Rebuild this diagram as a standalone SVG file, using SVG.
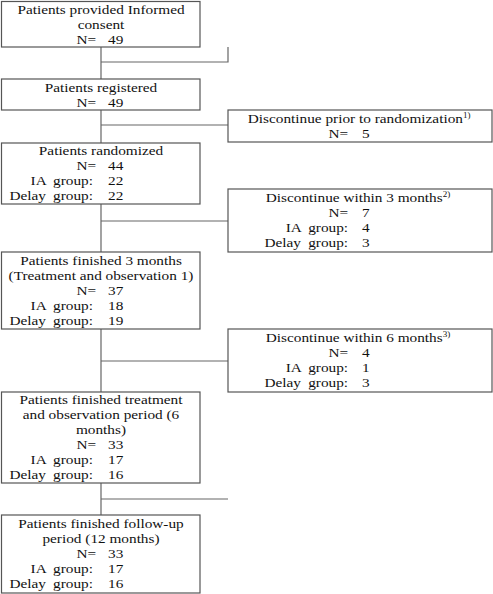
<svg xmlns="http://www.w3.org/2000/svg" width="493" height="594" viewBox="0 0 493 594">
<style>
.box{fill:#fff;stroke:#555;stroke-width:1.2}
.ln{fill:none;stroke:#666;stroke-width:1.2}
text{font-family:"Liberation Serif","Times New Roman",serif;font-size:13.5px;fill:#111}
.c{text-anchor:middle}
.e{text-anchor:end;word-spacing:3px}
.sup{font-size:8px}
</style>
<rect width="493" height="594" fill="#fff"/>
<g id="connectors">
<path class="ln" d="M101,47V79 M101,62H228V47"/>
<path class="ln" d="M101,110V143 M101,125H228"/>
<path class="ln" d="M101,204V252 M101,221H228"/>
<path class="ln" d="M101,329V392 M101,361H228"/>
<path class="ln" d="M101,483V515 M101,499H228"/>
</g>
<g id="consent">
<rect class="box" x="1.5" y="1.5" width="198.5" height="45.5"/>
<g transform="matrix(1.133,0,0,1,101,0)">
<text class="c" x="0" y="14">Patients provided Informed</text>
<text class="c" x="0" y="29">consent</text>
<text class="e" x="-4.4" y="44">N=</text><text x="6.2" y="44">49</text>
</g>
</g>
<g id="registered">
<rect class="box" x="1.5" y="79" width="198.5" height="31"/>
<g transform="matrix(1.133,0,0,1,101,0)">
<text class="c" x="0" y="92">Patients registered</text>
<text class="e" x="-4.4" y="107">N=</text><text x="6.2" y="107">49</text>
</g>
</g>
<g id="disc-prior">
<rect class="box" x="228" y="110" width="264" height="32"/>
<g transform="matrix(1.133,0,0,1,358,0)">
<text class="c" x="1" y="123">Discontinue prior to randomization<tspan class="sup" dy="-5">1)</tspan></text>
<text class="e" x="-8.8" y="138">N=</text><text x="3.5" y="138">5</text>
</g>
</g>
<g id="randomized">
<rect class="box" x="1.5" y="143" width="198.5" height="61"/>
<g transform="matrix(1.133,0,0,1,101,0)">
<text class="c" x="0" y="155">Patients randomized</text>
<text class="e" x="-4.4" y="170">N=</text><text x="6.2" y="170">44</text>
<text class="e" x="-7.1" y="185">IA group:</text><text x="6.2" y="185">22</text>
<text class="e" x="-7.1" y="200">Delay group:</text><text x="6.2" y="200">22</text>
</g>
</g>
<g id="disc-3m">
<rect class="box" x="228" y="189" width="264" height="63"/>
<g transform="matrix(1.133,0,0,1,358,0)">
<text class="c" x="0" y="202">Discontinue within 3 months<tspan class="sup" dy="-5">2)</tspan></text>
<text class="e" x="-8.8" y="217">N=</text><text x="3.5" y="217">7</text>
<text class="e" x="-8.8" y="232">IA group:</text><text x="3.5" y="232">4</text>
<text class="e" x="-8.8" y="247">Delay group:</text><text x="3.5" y="247">3</text>
</g>
</g>
<g id="finished-3m">
<rect class="box" x="1.5" y="252" width="198.5" height="77"/>
<g transform="matrix(1.133,0,0,1,101,0)">
<text class="c" x="0" y="265">Patients finished 3 months</text>
<text class="c" x="0" y="280">(Treatment and observation 1)</text>
<text class="e" x="-4.4" y="295">N=</text><text x="6.2" y="295">37</text>
<text class="e" x="-7.1" y="310">IA group:</text><text x="6.2" y="310">18</text>
<text class="e" x="-7.1" y="325">Delay group:</text><text x="6.2" y="325">19</text>
</g>
</g>
<g id="disc-6m">
<rect class="box" x="228" y="329" width="264" height="63"/>
<g transform="matrix(1.133,0,0,1,358,0)">
<text class="c" x="0" y="342">Discontinue within 6 months<tspan class="sup" dy="-5">3)</tspan></text>
<text class="e" x="-8.8" y="357">N=</text><text x="3.5" y="357">4</text>
<text class="e" x="-8.8" y="372">IA group:</text><text x="3.5" y="372">1</text>
<text class="e" x="-8.8" y="387">Delay group:</text><text x="3.5" y="387">3</text>
</g>
</g>
<g id="finished-6m">
<rect class="box" x="1.5" y="392" width="198.5" height="91"/>
<g transform="matrix(1.133,0,0,1,101,0)">
<text class="c" x="0" y="404">Patients finished treatment</text>
<text class="c" x="0" y="419">and observation period (6</text>
<text class="c" x="0" y="434">months)</text>
<text class="e" x="-4.4" y="449">N=</text><text x="6.2" y="449">33</text>
<text class="e" x="-7.1" y="464">IA group:</text><text x="6.2" y="464">17</text>
<text class="e" x="-7.1" y="479">Delay group:</text><text x="6.2" y="479">16</text>
</g>
</g>
<g id="follow-up">
<rect class="box" x="1.5" y="515" width="198.5" height="78"/>
<g transform="matrix(1.133,0,0,1,101,0)">
<text class="c" x="0" y="528">Patients finished follow-up</text>
<text class="c" x="0" y="543">period (12 months)</text>
<text class="e" x="-4.4" y="558">N=</text><text x="6.2" y="558">33</text>
<text class="e" x="-7.1" y="573">IA group:</text><text x="6.2" y="573">17</text>
<text class="e" x="-7.1" y="588">Delay group:</text><text x="6.2" y="588">16</text>
</g>
</g>
</svg>
